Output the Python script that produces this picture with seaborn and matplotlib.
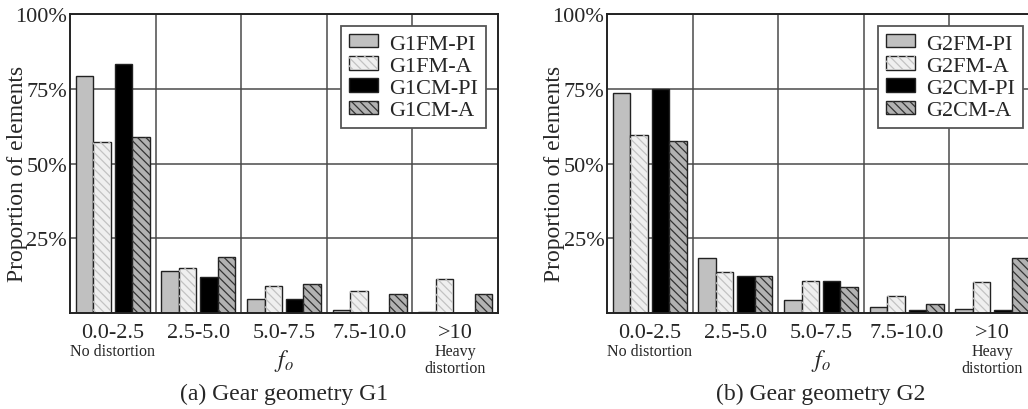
"""
Proportion of elements per distortion range f_o, for gear geometries G1 and G2.
Grouped bars (FM/CM, PI/A) drawn with seaborn, saved to out.png.
"""

import numpy as np
import pandas as pd
import matplotlib.pyplot as plt
import seaborn as sns
from matplotlib.patches import Patch, Rectangle

# Data (percent of elements)
categories = ['0.0-2.5', '2.5-5.0', '5.0-7.5', '7.5-10.0', '>10']

g1_fm_pi = [79.2, 14.0, 4.7, 1.1, 0.5]
g1_fm_a = [57.1, 15.0, 8.9, 7.3, 11.3]
g1_cm_pi = [83.2, 12.0, 4.7, 0.0, 0.0]
g1_cm_a = [58.8, 18.7, 9.7, 6.2, 6.2]

g2_fm_pi = [73.5, 18.3, 4.5, 2.1, 1.2]
g2_fm_a = [59.4, 13.6, 10.6, 5.7, 10.3]
g2_cm_pi = [74.9, 12.5, 10.6, 0.9, 0.9]
g2_cm_a = [57.5, 12.5, 8.6, 2.9, 18.3]

series_suffix = ['FM-PI', 'FM-A', 'CM-PI', 'CM-A']
y_ticks = [25, 50, 75, 100]

# face colour, hatch, hatch colour for each series
styles = [('#c0c0c0', None, None),
          ('#efefef', '\\\\\\\\', '#c2c2c2'),
          ('#000000', None, None),
          ('#b2b2b2', '\\\\\\\\', '#333333')]

sns.set_style('white')
plt.rcParams['font.family'] = ['Liberation Serif', 'DejaVu Serif']
plt.rcParams['mathtext.fontset'] = 'stix'
plt.rcParams['hatch.linewidth'] = 0.9

EDGE = '#222222'
GRID = '#4a4a4a'


def draw_panel(ax, gear, series, subtitle):
    labels = [gear + s for s in series_suffix]
    df = pd.DataFrame({
        'range': categories * len(series),
        'value': np.concatenate(series),
        'series': np.repeat(labels, len(categories)),
    })

    sns.barplot(data=df, x='range', y='value', hue='series', order=categories,
                hue_order=labels, palette=[s[0] for s in styles], saturation=1,
                width=0.816, errorbar=None, edgecolor=EDGE, linewidth=1,
                legend=False, ax=ax)

    # split into an FM pair and a CM pair, add the hatching on top
    for i, cont in enumerate(ax.containers):
        shift = -0.0235 if i < 2 else 0.0235
        face, hatch, hcol = styles[i]
        for p in cont:
            p.set_x(p.get_x() + shift)
            if p.get_height() == 0:
                p.set_visible(False)
                continue
            if hatch:
                ax.add_patch(Rectangle((p.get_x(), p.get_y()), p.get_width(),
                                       p.get_height(), fill=False, hatch=hatch,
                                       edgecolor=hcol, linewidth=0, zorder=p.get_zorder()))
                p.set_zorder(p.get_zorder())

    ax.set_xlim(-0.5, 4.5)
    ax.set_ylim(0, 100)
    ax.set_yticks(y_ticks)
    ax.set_yticklabels([f'{t}%' for t in y_ticks], fontsize=16)
    ax.set_xticks(range(len(categories)))
    ax.set_xticklabels(categories, fontsize=16)
    ax.set_xticks([0.5, 1.5, 2.5, 3.5], minor=True)
    ax.tick_params(axis='x', which='major', length=0, pad=7)
    ax.tick_params(axis='x', which='minor', length=5, width=1, color=EDGE, direction='out')
    ax.tick_params(axis='y', which='major', length=0, pad=2)

    ax.set_axisbelow(True)
    ax.grid(axis='y', which='major', color=GRID, linewidth=1.1)
    ax.grid(axis='x', which='minor', color=GRID, linewidth=1.1)
    for sp in ax.spines.values():
        sp.set_color(EDGE)
        sp.set_linewidth(1.4)

    ax.set_xlabel('')
    ax.set_ylabel('Proportion of elements', fontsize=17)
    ax.yaxis.set_label_coords(-0.098, 0.47)

    tr = ax.get_xaxis_transform()
    ax.text(0, -0.127, 'No distortion', transform=tr, ha='center', va='center', fontsize=11.5)
    ax.text(4, -0.156, 'Heavy\ndistortion', transform=tr, ha='center', va='center',
            fontsize=11.5, linespacing=1.05)
    ax.text(2, -0.158, r'$f_o$', transform=tr, ha='center', va='center', fontsize=17)
    ax.text(0.5, -0.27, subtitle, transform=ax.transAxes, ha='center', va='center', fontsize=17)

    handles = []
    for face, hatch, hcol in styles:
        base = Patch(facecolor=face, edgecolor=EDGE, linewidth=1)
        if hatch:
            handles.append((base, Patch(fill=False, hatch=hatch, edgecolor=hcol, linewidth=0)))
        else:
            handles.append(base)
    leg = ax.legend(handles, labels, loc='upper right', fontsize=16, frameon=True,
                    fancybox=False, edgecolor='#555555', framealpha=1,
                    handlelength=1.3, handleheight=0.55, labelspacing=0.12,
                    borderpad=0.35, handletextpad=0.5, borderaxespad=0.55)
    leg.get_frame().set_linewidth(1.3)


fig = plt.figure(figsize=(10.28, 4.10), dpi=100)
ax1 = fig.add_axes([0.0681, 0.2341, 0.4163, 0.7293])
ax2 = fig.add_axes([0.5905, 0.2341, 0.4163, 0.7293])

draw_panel(ax1, 'G1', [g1_fm_pi, g1_fm_a, g1_cm_pi, g1_cm_a], '(a) Gear geometry G1')
draw_panel(ax2, 'G2', [g2_fm_pi, g2_fm_a, g2_cm_pi, g2_cm_a], '(b) Gear geometry G2')

fig.savefig('out.png', dpi=100)
